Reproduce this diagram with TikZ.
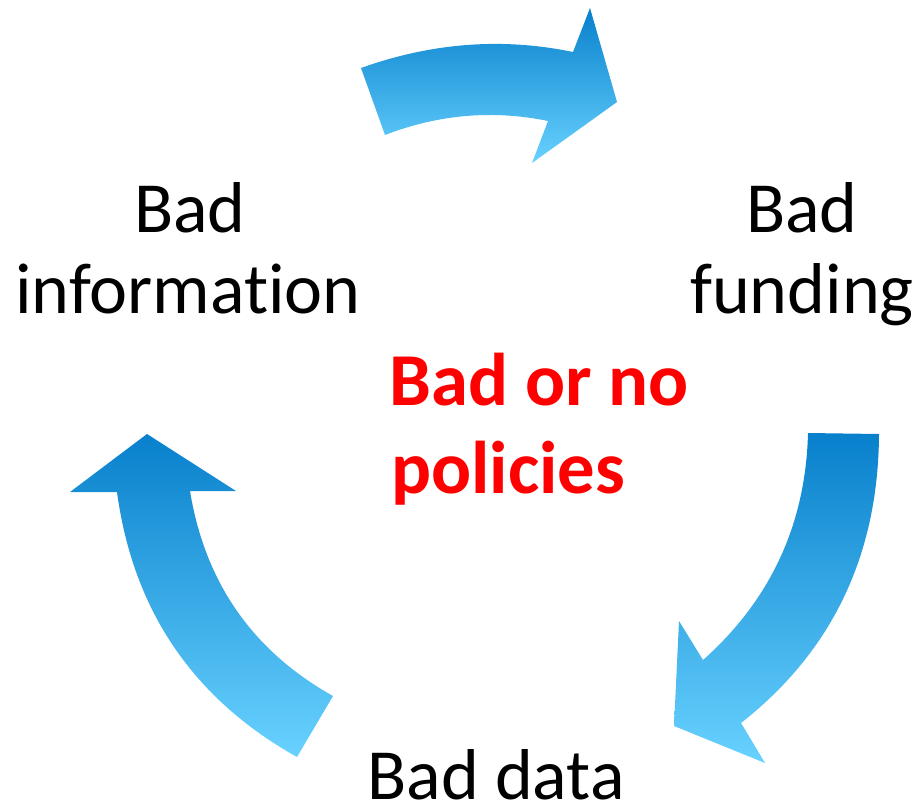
\documentclass[tikz,border=0pt]{standalone}
\usepackage{fontspec}
\setmainfont{Carlito}[Ligatures={NoCommon}]
\definecolor{arrowtop}{RGB}{8,128,204}
\definecolor{arrowbot}{RGB}{104,210,255}
\definecolor{polred}{RGB}{255,0,0}
\begin{document}
\begin{tikzpicture}[x=0.75pt,y=-0.75pt,
  cyclearrow/.style={top color=arrowtop,bottom color=arrowbot,draw=none},
  lbl/.style={font=\fontsize{54}{60}\selectfont,anchor=base,inner sep=0pt},
  centrelbl/.style={font=\fontsize{56}{64}\selectfont\bfseries,text=polred,anchor=base west,inner sep=0pt}]
\useasboundingbox (0,0) rectangle (919,807);
% top arrow
\path[cyclearrow] (361,68) .. controls (431.7,42.7) and (502.3,37.3) .. (573,52) -- (590,8) -- (617,102) -- (532,163) -- (548,121) .. controls (493,109.7) and (438.7,114.3) .. (385,135) -- cycle;
% right arrow
\path[cyclearrow] (808,433) -- (879,434) .. controls (878.3,555) and (832.3,651.3) .. (741,723) -- (765,763) -- (674,726) -- (679,621) -- (703,660) .. controls (770.7,599.7) and (805.7,524) .. (808,433) -- cycle;
% left arrow
\path[cyclearrow] (147,434) -- (236,491) -- (190,491) .. controls (205,582.7) and (252.7,651) .. (333,696) -- (297,757) .. controls (193,698.7) and (133,610.3) .. (117,492) -- (70,492) -- cycle;
% labels
\node[lbl] (info1) at (190,232) {Bad};
\node[lbl] (info2) at (188,313) {information};
\node[lbl] (fund1) at (802,232) {Bad};
\node[lbl] (fund2) at (802,313) {funding};
\node[lbl] (data) at (496,799) {Bad data};
\node[centrelbl] (pol1) at (389,405) {Bad or no};
\node[centrelbl] (pol2) at (391,493) {policies};
\end{tikzpicture}
\end{document}
